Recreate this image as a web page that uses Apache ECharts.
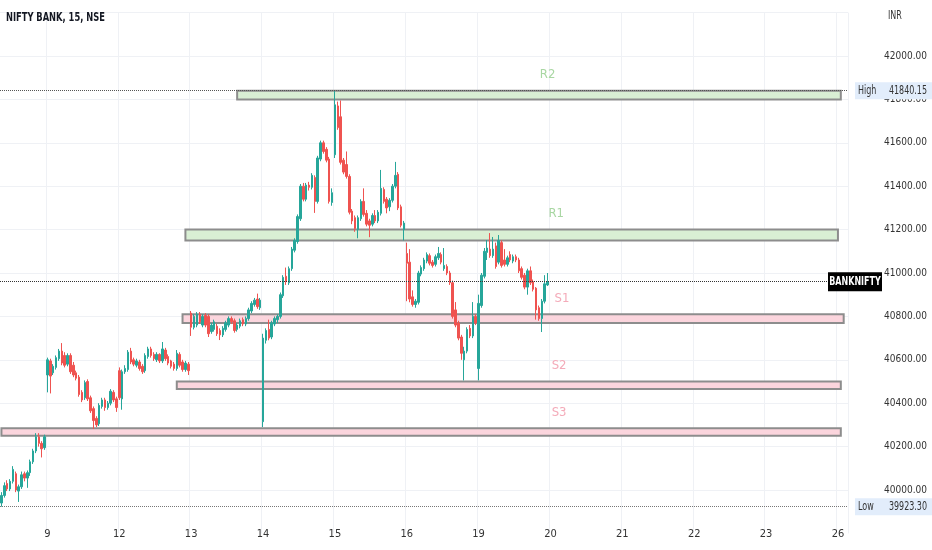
<!DOCTYPE html>
<html>
<head>
<meta charset="utf-8">
<title>NIFTY BANK, 15, NSE</title>
<script src="https://cdn.jsdelivr.net/npm/echarts@6/dist/echarts.min.js"></script>
<style>
	html, body { margin: 0; padding: 0; background: #fff; }
	#chart { width: 932px; height: 550px; }
</style>
</head>
<body>
<div id="chart"></div>
<script>
	// 时间轴：交易日 + 每日 15 分钟 K 线
	var days = ['8', '9', '12', '13', '14', '15', '16', '19', '20', '21', '22', '23', '26'];
	var barsShown = [16, 25, 25, 25, 25, 25, 25, 25, 25, 25, 25, 25, 4];
	var sessionTimes = ['09:15', '09:30', '09:45', '10:00', '10:15', '10:30', '10:45', '11:00', '11:15',
		'11:30', '11:45', '12:00', '12:15', '12:30', '12:45', '13:00', '13:15', '13:30', '13:45',
		'14:00', '14:15', '14:30', '14:45', '15:00', '15:15'];

	// [open, close, low, high]
	var bars8 = [
		[39940, 39975, 39923.3, 39990], [39975, 40020, 39965, 40035], [40030, 40005, 39995, 40045],
		[40005, 40040, 39995, 40050], [40040, 40095, 40030, 40110], [40075, 40000, 39990, 40085],
		[39995, 40015, 39945, 40025], [40015, 40070, 40005, 40085], [40075, 40055, 40040, 40085],
		[40055, 40080, 40010, 40090], [40080, 40130, 40065, 40140], [40130, 40180, 40120, 40190],
		[40180, 40245, 40170, 40262], [40245, 40215, 40200, 40262], [40215, 40190, 40150, 40225],
		[40195, 40245, 40185, 40255]
	];
	var bars9 = [
		[40530, 40600, 40450, 40610], [40595, 40525, 40445, 40605], [40540, 40570, 40530, 40580],
		[40565, 40610, 40555, 40620], [40605, 40640, 40595, 40650], [40640, 40585, 40575, 40677],
		[40620, 40575, 40565, 40635], [40580, 40620, 40570, 40630], [40620, 40545, 40535, 40630],
		[40575, 40530, 40520, 40590], [40540, 40515, 40505, 40550], [40520, 40440, 40430, 40530],
		[40450, 40415, 40405, 40460], [40425, 40495, 40415, 40505], [40500, 40420, 40410, 40510],
		[40425, 40365, 40355, 40435], [40375, 40320, 40281, 40385], [40330, 40300, 40290, 40340],
		[40305, 40390, 40295, 40400], [40385, 40415, 40375, 40425], [40415, 40380, 40365, 40425],
		[40380, 40400, 40370, 40410], [40400, 40455, 40390, 40465], [40450, 40415, 40405, 40460],
		[40420, 40380, 40360, 40430]
	];
	var bars12 = [
		[40550, 40425, 40415, 40565], [40420, 40545, 40370, 40555], [40545, 40560, 40535, 40575],
		[40555, 40635, 40545, 40645], [40640, 40590, 40580, 40655], [40600, 40580, 40570, 40610],
		[40575, 40595, 40565, 40605], [40590, 40560, 40550, 40600], [40570, 40545, 40535, 40580],
		[40550, 40620, 40540, 40630], [40615, 40650, 40605, 40660], [40650, 40620, 40610, 40660],
		[40625, 40605, 40595, 40635], [40600, 40625, 40590, 40635], [40625, 40595, 40585, 40630],
		[40595, 40650, 40585, 40682], [40645, 40605, 40595, 40655], [40615, 40585, 40575, 40625],
		[40595, 40570, 40560, 40600], [40580, 40560, 40550, 40590], [40560, 40630, 40550, 40645],
		[40625, 40575, 40565, 40635], [40590, 40555, 40545, 40600], [40555, 40585, 40545, 40595],
		[40580, 40550, 40530, 40590]
	];
	var bars13 = [
		[40815, 40750, 40710, 40825], [40750, 40800, 40740, 40810], [40760, 40810, 40750, 40820],
		[40810, 40775, 40765, 40820], [40760, 40800, 40750, 40810], [40805, 40760, 40750, 40815],
		[40800, 40720, 40705, 40810], [40730, 40760, 40720, 40770], [40740, 40775, 40730, 40785],
		[40755, 40720, 40710, 40765], [40735, 40715, 40691, 40745], [40715, 40745, 40705, 40755],
		[40740, 40770, 40730, 40780], [40760, 40790, 40750, 40800], [40790, 40775, 40765, 40800],
		[40780, 40735, 40725, 40790], [40740, 40760, 40730, 40770], [40755, 40780, 40745, 40790],
		[40785, 40765, 40755, 40795], [40765, 40790, 40755, 40800], [40790, 40830, 40780, 40840],
		[40825, 40860, 40815, 40870], [40855, 40875, 40845, 40885], [40880, 40845, 40835, 40905],
		[40840, 40875, 40830, 40885]
	];
	var bars14 = [
		[40315, 40700, 40290, 40720], [40690, 40735, 40675, 40745], [40740, 40700, 40690, 40785],
		[40705, 40770, 40695, 40780], [40765, 40790, 40755, 40800], [40785, 40800, 40770, 40810],
		[40800, 40900, 40790, 40910], [40895, 40980, 40885, 40990], [40985, 40960, 40945, 41025],
		[40955, 41020, 40945, 41030], [41020, 41110, 41010, 41120], [41105, 41150, 41095, 41160],
		[41145, 41260, 41135, 41270], [41250, 41400, 41240, 41410], [41400, 41340, 41330, 41415],
		[41340, 41405, 41330, 41415], [41405, 41395, 41380, 41420], [41395, 41450, 41385, 41460],
		[41440, 41330, 41277, 41450], [41330, 41530, 41320, 41540], [41525, 41600, 41515, 41610],
		[41600, 41560, 41550, 41610], [41570, 41520, 41510, 41580], [41525, 41330, 41320, 41535],
		[41325, 41370, 41310, 41390]
	];
	var bars15 = [
		[41545, 41775, 41530, 41840.15], [41770, 41670, 41660, 41790], [41720, 41510, 41500, 41795],
		[41520, 41465, 41455, 41530], [41500, 41445, 41435, 41560], [41445, 41280, 41270, 41455],
		[41285, 41240, 41225, 41295], [41255, 41205, 41190, 41265], [41200, 41255, 41160, 41265],
		[41250, 41330, 41240, 41340], [41330, 41270, 41260, 41390], [41275, 41225, 41215, 41290],
		[41240, 41220, 41165, 41250], [41225, 41265, 41215, 41275], [41265, 41240, 41230, 41290],
		[41240, 41280, 41230, 41290], [41275, 41390, 41265, 41475], [41385, 41330, 41320, 41395],
		[41340, 41300, 41275, 41350], [41305, 41335, 41285, 41345], [41335, 41400, 41325, 41410],
		[41400, 41450, 41390, 41512], [41455, 41300, 41290, 41465], [41305, 41220, 41210, 41315],
		[41200, 41230, 41150, 41240]
	];
	var bars16 = [
		[41090, 41045, 40870, 41140], [41050, 40880, 40865, 41110], [40890, 40855, 40845, 40920],
		[40855, 40870, 40840, 40880], [40865, 41000, 40855, 41010], [40995, 41025, 40985, 41035],
		[41020, 41060, 41010, 41070], [41055, 41085, 41045, 41095], [41080, 41045, 41035, 41090],
		[41050, 41035, 41025, 41060], [41040, 41075, 41030, 41085], [41070, 41090, 41060, 41120],
		[41085, 41050, 41040, 41095], [41020, 41035, 41010, 41115], [41030, 41000, 40990, 41040],
		[41000, 40955, 40945, 41010], [40955, 40800, 40790, 40965], [40830, 40760, 40750, 40866],
		[40770, 40700, 40690, 40780], [40705, 40630, 40600, 40715], [40600, 40640, 40505, 40660],
		[40640, 40740, 40630, 40750], [40745, 40710, 40700, 40760], [40710, 40800, 40700, 40866],
		[40800, 40770, 40760, 40810]
	];
	var bars19 = [
		[40560, 40860, 40505, 40900], [40850, 40990, 40840, 41000], [40985, 41100, 40975, 41115],
		[41095, 41115, 41060, 41152], [41110, 41080, 41070, 41184], [41080, 41110, 41070, 41166],
		[41125, 41030, 41020, 41140], [41050, 41150, 41040, 41175], [41140, 41035, 41025, 41150],
		[41060, 41040, 41030, 41110], [41040, 41070, 41030, 41080], [41085, 41060, 41050, 41100],
		[41055, 41075, 41045, 41085], [41075, 41060, 41050, 41085], [41060, 41010, 41000, 41070],
		[41020, 40980, 40970, 41030], [40990, 40935, 40925, 41000], [40935, 41010, 40900, 41020],
		[41010, 40955, 40945, 41030], [40960, 40925, 40915, 40970], [40930, 40830, 40785, 40935],
		[40840, 40790, 40780, 40850], [40790, 40870, 40728, 40880], [40870, 40950, 40860, 40990],
		[40945, 40960, 40940, 41000]
	];

	// 支撑/阻力区
	var zoneNames = ['R2', 'R1', 'S1', 'S2', 'S3'];
	var zoneTop = [41840, 41200, 40810, 40500, 40285];
	var zoneBottom = [41800, 41150, 40770, 40465, 40250];
	var zoneFrom = [82, 64, 63, 61, 0];
	var zoneTo = [292, 291, 293, 292, 292];
	var zoneLabelAt = [190, 193, 195, 194, 194];

	var FONT = '"DejaVu Sans Condensed", "DejaVu Sans", sans-serif';
	var NARROW = 0.74; // 参考图的字体很窄

	var categories = [];
	days.forEach(function (d, i) {
		var times = i === 0 ? sessionTimes.slice(sessionTimes.length - barsShown[i]) : sessionTimes.slice(0, barsShown[i]);
		times.forEach(function (t) {
			categories.push(d + ' ' + t);
		});
	});

	var candles = [].concat(bars8, bars9, bars12, bars13, bars14, bars15, bars16, bars19);

	var highest = Math.max.apply(null, candles.map(function (c) { return c[3]; }));
	var lowest = Math.min.apply(null, candles.map(function (c) { return c[2]; }));
	var lastClose = candles[candles.length - 1][1];

	function isDayStart(index, value) {
		return value.slice(-5) === '09:15';
	}

	var areas = [];
	var areaLabels = [];
	zoneNames.forEach(function (name, i) {
		var res = name.charAt(0) === 'R';
		areas.push([{
			xAxis: zoneFrom[i],
			yAxis: zoneTop[i],
			itemStyle: {
				color: res ? '#d9efd4' : '#fbd5dd',
				borderColor: '#8d8d8d',
				borderWidth: 2
			}
		}, {
			xAxis: zoneTo[i],
			yAxis: zoneBottom[i]
		}]);
		areaLabels.push({
			coord: [zoneLabelAt[i], zoneTop[i]],
			symbolSize: 0,
			label: {
				show: true,
				position: 'inside',
				offset: [0, -16],
				formatter: name,
				color: res ? '#a9d7a3' : '#f4abb9',
				fontSize: 13,
				fontFamily: FONT
			}
		});
	});

	var option = {
		animation: false,
		backgroundColor: '#ffffff',
		grid: {
			left: 0,
			right: 84,
			top: 12.6,
			bottom: 16.6,
			outerBoundsMode: 'none'
		},
		xAxis: {
			type: 'category',
			data: categories,
			boundaryGap: true,
			offset: -13,
			axisLine: { show: false },
			axisTick: { show: false },
			axisLabel: {
				interval: isDayStart,
				formatter: function (v) { return v.split(' ')[0]; },
				color: '#333333',
				fontSize: 11,
				fontFamily: FONT,
				margin: 8
			},
			splitLine: {
				show: true,
				interval: isDayStart,
				lineStyle: { color: '#eff1f5', width: 1 }
			}
		},
		yAxis: {
			type: 'value',
			position: 'right',
			min: 39800,
			max: 42200,
			interval: 200,
			axisLine: { show: false },
			axisTick: { show: false },
			axisLabel: {
				showMinLabel: false,
				showMaxLabel: false,
				align: 'right',
				margin: 79,
				color: '#333333',
				fontSize: 10,
				fontFamily: FONT,
				formatter: function (v) { return v.toFixed(2); }
			},
			splitLine: {
				show: true,
				showMinLine: false,
				lineStyle: { color: '#eff1f5', width: 1 }
			}
		},
		series: [{
			type: 'candlestick',
			data: candles,
			barWidth: 2,
			itemStyle: {
				color: '#26a69a',
				color0: '#ef5350',
				borderColor: '#26a69a',
				borderColor0: '#ef5350',
				borderWidth: 1
			},
			markArea: {
				silent: true,
				label: { show: false },
				data: areas
			},
			markPoint: {
				silent: true,
				symbol: 'circle',
				data: areaLabels
			},
			markLine: {
				silent: true,
				symbol: ['none', 'none'],
				label: { show: false },
				lineStyle: { color: '#555555', type: 'dotted', width: 1 },
				data: [
					{ yAxis: highest },
					{ yAxis: lowest, lineStyle: { color: '#777777', type: 'dotted', width: 1 } },
					{ yAxis: lastClose, lineStyle: { color: '#333333', type: 'dotted', width: 1 } }
				]
			}
		}]
	};

	var chart = echarts.init(document.getElementById('chart'));
	chart.setOption(option);

	var yHigh = chart.convertToPixel({ yAxisIndex: 0 }, highest);
	var yLow = chart.convertToPixel({ yAxisIndex: 0 }, lowest);
	var yLast = chart.convertToPixel({ yAxisIndex: 0 }, lastClose);

	function txt(x, y, text, fill, font, align) {
		return {
			type: 'text',
			z: 101,
			x: x,
			y: y,
			scaleX: NARROW,
			style: {
				text: text,
				fill: fill,
				font: font,
				textAlign: align || 'left',
				textVerticalAlign: 'middle',
				verticalAlign: 'middle'
			}
		};
	}

	function priceTag(y, name, value) {
		return [
			{ type: 'rect', z: 100, shape: { x: 855, y: y - 8.5, width: 77, height: 17 }, style: { fill: '#e2edfb' } },
			txt(858, y, name, '#333333', '12px ' + FONT),
			txt(927, y, value.toFixed(2), '#333333', '12px ' + FONT, 'right')
		];
	}

	chart.setOption({
		graphic: [].concat(
			[txt(6, 18, 'NIFTY BANK, 15, NSE', '#131722', 'bold 12.5px ' + FONT)],
			[txt(888, 16, 'INR', '#333333', '12px ' + FONT)],
			priceTag(yHigh, 'High', highest),
			priceTag(yLow, 'Low', lowest),
			[
				{ type: 'rect', z: 100, shape: { x: 828, y: yLast - 9.5, width: 54, height: 19 }, style: { fill: '#000000' } },
				txt(855, yLast, 'BANKNIFTY', '#ffffff', 'bold 12px ' + FONT, 'center')
			]
		)
	});
</script>
</body>
</html>
